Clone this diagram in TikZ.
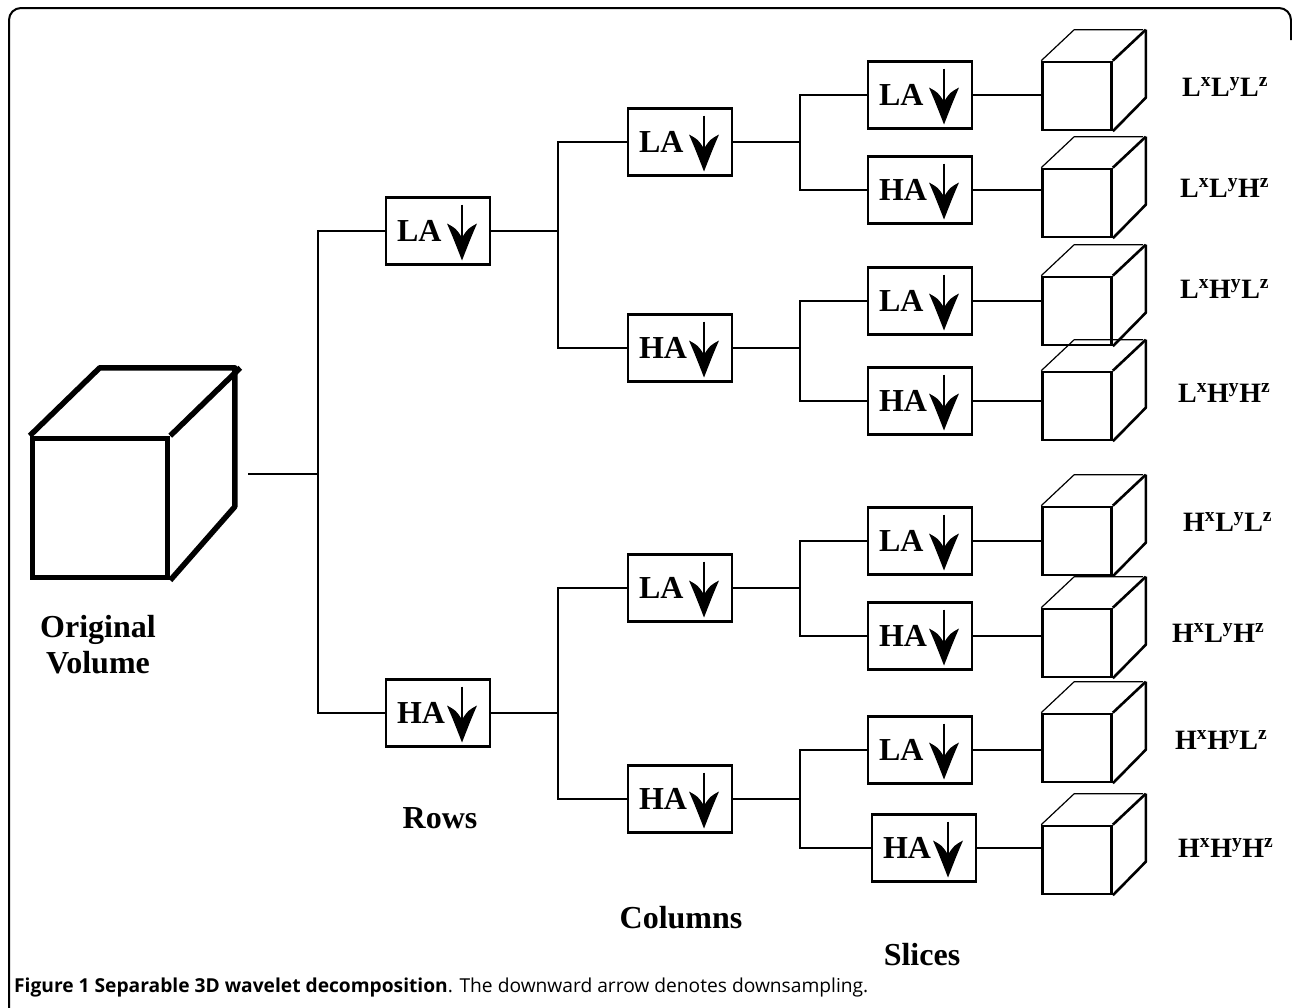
\documentclass[tikz,border=0pt]{standalone}
\usepackage{fontspec}
\setmainfont{Liberation Serif}
\newfontfamily\capfont{Open Sans}
\begin{document}
\begin{tikzpicture}[x=1pt,y=-1pt,
  conn/.style={line width=2.6pt},
  fbox/.style={draw, line width=2.6pt, minimum height=67pt, inner xsep=11pt, inner ysep=0pt,
    text width=82pt, align=left, font=\fontsize{32}{32}\selectfont\bfseries,
    path picture={
      \draw[line width=1.1pt] ([shift={(76pt,-7pt)}]path picture bounding box.north west) -- ([shift={(76pt,-56pt)}]path picture bounding box.north west);
      \fill ([shift={(61pt,-26pt)}]path picture bounding box.north west)
        .. controls ([shift={(67pt,-40pt)}]path picture bounding box.north west) .. ([shift={(76pt,-63pt)}]path picture bounding box.north west)
        .. controls ([shift={(85pt,-40pt)}]path picture bounding box.north west) .. ([shift={(91pt,-26pt)}]path picture bounding box.north west)
        .. controls ([shift={(82pt,-31pt)}]path picture bounding box.north west) .. ([shift={(76pt,-40pt)}]path picture bounding box.north west)
        .. controls ([shift={(70pt,-31pt)}]path picture bounding box.north west) .. cycle;
    }},
  face/.style={draw, line width=2.6pt, minimum width=69pt, minimum height=68pt, inner sep=0pt},
  thick edge/.style={line width=2.6pt, line join=round},
  thin edge/.style={line width=1.2pt, line join=round},
  lab/.style={anchor=base west, inner sep=0pt, font=\fontsize{28}{28}\selectfont\bfseries},
  title/.style={inner sep=0pt, font=\fontsize{32}{36}\selectfont\bfseries, align=center}
]
\useasboundingbox (0,0) rectangle (1292,1007);
% frame
\draw[line width=2pt, rounded corners=12pt] (9,1012) -- (9,8) -- (1291,8) -- (1291,40);

% original cube
\node[draw, line width=5.5pt, minimum width=135pt, minimum height=139pt, inner sep=0pt] (orig) at (100,508) {};
\draw[line width=5.5pt, line join=round] (orig.north west) -- ++(70,-68) -- ++(135,0) -- ++(0,139) -- (orig.south east);
\draw[line width=5.5pt] (orig.north east) -- ++(70,-68);
\node[title] (ov) at (98,645) {Original\\Volume};

% rows
\node[fbox] (r1) at (438,231) {LA};
\node[fbox] (r2) at (438,713) {HA};
% columns
\node[fbox] (c1) at (680,142) {LA};
\node[fbox] (c2) at (680,348) {HA};
\node[fbox] (c3) at (680,588) {LA};
\node[fbox] (c4) at (680,799) {HA};
% slices
\node[fbox] (s1) at (920,95) {LA};
\node[fbox] (s2) at (920,190) {HA};
\node[fbox] (s3) at (920,301) {LA};
\node[fbox] (s4) at (920,401) {HA};
\node[fbox] (s5) at (920,541) {LA};
\node[fbox] (s6) at (920,636) {HA};
\node[fbox] (s7) at (920,750) {LA};
\node[fbox] (s8) at (924,848) {HA};

% small cubes
\foreach \i/\y in {1/96,2/203,3/311,4/406,5/541,6/643,7/748,8/860}{
  \node[face] (q\i) at (1077,\y) {};
  \draw[thin edge] (q\i.north west) -- ++(33,-31) -- ++(69,0);
  \draw[thick edge] ([shift={(33,-31)}]q\i.north east) -- ++(0,68) -- (q\i.south east);
  \draw[thick edge] (q\i.north east) -- ++(33,-31);
}

% connectors
\coordinate (o1) at (248,474);
\coordinate (j1) at (318,474);
\draw[conn] (o1) -- (j1);
\draw[conn] (j1) |- (r1.west);
\draw[conn] (j1) |- (r2.west);
\coordinate (j2) at (558,231);
\coordinate (j3) at (558,713);
\draw[conn] (r1.east) -- (j2);
\draw[conn] (j2) |- (c1.west);
\draw[conn] (j2) |- (c2.west);
\draw[conn] (r2.east) -- (j3);
\draw[conn] (j3) |- (c3.west);
\draw[conn] (j3) |- (c4.west);
\coordinate (j4) at (800,142);
\coordinate (j5) at (800,348);
\coordinate (j6) at (800,588);
\coordinate (j7) at (800,799);
\draw[conn] (c1.east) -- (j4);
\draw[conn] (j4) |- (s1.west);
\draw[conn] (j4) |- (s2.west);
\draw[conn] (c2.east) -- (j5);
\draw[conn] (j5) |- (s3.west);
\draw[conn] (j5) |- (s4.west);
\draw[conn] (c3.east) -- (j6);
\draw[conn] (j6) |- (s5.west);
\draw[conn] (j6) |- (s6.west);
\draw[conn] (c4.east) -- (j7);
\draw[conn] (j7) |- (s7.west);
\draw[conn] (j7) |- (s8.west);
\foreach \i in {1,...,8}{\draw[conn] (s\i.east) -- (s\i.east -| q\i.west);}

% labels
\node[lab] (l1) at (1182,96) {L\textsuperscript{x}L\textsuperscript{y}L\textsuperscript{z}};
\node[lab] (l2) at (1180,197) {L\textsuperscript{x}L\textsuperscript{y}H\textsuperscript{z}};
\node[lab] (l3) at (1180,298) {L\textsuperscript{x}H\textsuperscript{y}L\textsuperscript{z}};
\node[lab] (l4) at (1178,402) {L\textsuperscript{x}H\textsuperscript{y}H\textsuperscript{z}};
\node[lab] (l5) at (1183,531) {H\textsuperscript{x}L\textsuperscript{y}L\textsuperscript{z}};
\node[lab] (l6) at (1172,642) {H\textsuperscript{x}L\textsuperscript{y}H\textsuperscript{z}};
\node[lab] (l7) at (1175,749) {H\textsuperscript{x}H\textsuperscript{y}L\textsuperscript{z}};
\node[lab] (l8) at (1178,857) {H\textsuperscript{x}H\textsuperscript{y}H\textsuperscript{z}};

\node[title] (rows) at (440,818) {Rows};
\node[title] (cols) at (681,918) {Columns};
\node[title] (slc) at (922,955) {Slices};

\node[anchor=base west, inner sep=0pt, font=\capfont\fontsize{19.2}{20}\selectfont] (cap) at (14,992)
  {\textbf{Figure 1 Separable 3D wavelet decomposition}. The downward arrow denotes downsampling.};
\end{tikzpicture}
\end{document}
